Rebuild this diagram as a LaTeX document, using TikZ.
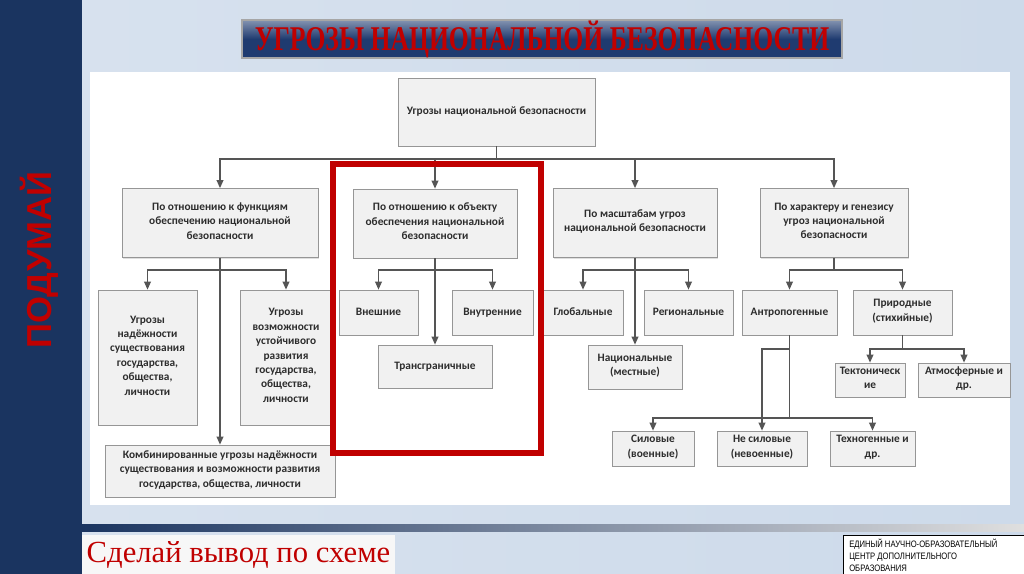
\documentclass[tikz,border=0pt]{standalone}
\usepackage{fontspec}
\setmainfont{Carlito}
\newfontfamily\titlefont[FakeStretch=0.74]{Liberation Serif}
\newfontfamily\slidefont{Liberation Serif}
\newfontfamily\sidefont{Liberation Sans}
\newfontfamily\logofont[FakeStretch=0.82]{Liberation Sans}
\usetikzlibrary{arrows.meta,positioning,calc,shadows}
\definecolor{navybar}{RGB}{26,52,96}
\definecolor{titlenavy}{RGB}{31,59,112}
\definecolor{slidered}{RGB}{192,0,0}
\definecolor{boxfill}{RGB}{241,241,241}
\definecolor{boxline}{RGB}{150,150,150}
\definecolor{linegray}{RGB}{85,85,85}
\definecolor{textgray}{RGB}{45,45,45}
\definecolor{bgblue}{RGB}{205,218,234}

\begin{document}
\begin{tikzpicture}[x=0.75pt,y=-0.75pt,
  thr/.style={draw=boxline, fill=boxfill, line width=0.5pt, align=center,
              inner sep=1pt, text=textgray,
              font=\fontsize{8.5}{10.8}\selectfont\bfseries,
              execute at begin node=\strut,
              drop shadow={shadow xshift=0.8pt, shadow yshift=-0.8pt, opacity=0.25}},
  conn/.style={draw=linegray, line width=1.1pt},
  connarr/.style={conn, -{Triangle[length=6pt,width=5pt]}}
]
\useasboundingbox (0,0) rectangle (1024,574);

% slide background
\shade[left color=bgblue!80, middle color=white, right color=bgblue] (82,0) rectangle (1024,574);
\fill[white] (90,72) rectangle (1010,505);
\shade[left color=navybar, right color=gray!25] (82,524) rectangle (1024,531);
\fill[navybar] (0,0) rectangle (82,574);

% title
\node[draw=gray!70, line width=0.8pt, top color=titlenavy!55, bottom color=titlenavy,
      middle color=titlenavy, minimum width=450pt, minimum height=28.5pt, inner sep=0pt,
      text=slidered, font=\titlefont\fontsize{26}{28}\selectfont\bfseries]
      (title) at (542,39) {УГРОЗЫ НАЦИОНАЛЬНОЙ БЕЗОПАСНОСТИ};

\node[rotate=90, text=slidered, font=\sidefont\fontsize{26}{28}\selectfont\bfseries]
      (think) at (39,260) {ПОДУМАЙ};

% root and criteria
\node[thr, minimum width=147.75pt, minimum height=51pt] (root) at (496.5,112) {Угрозы национальной безопасности};
\node[thr, minimum width=147pt, minimum height=51.75pt] (A) at (220,223) {По отношению к функциям\\обеспечению национальной\\безопасности};
\node[thr, minimum width=123pt, minimum height=51.75pt] (B) at (435,223.5) {По отношению к объекту\\обеспечения национальной\\безопасности};
\node[thr, minimum width=123pt, minimum height=51.75pt] (C) at (635,223) {По масштабам угроз\\национальной безопасности};
\node[thr, minimum width=111pt, minimum height=51.75pt] (D) at (834,223) {По характеру и генезису\\угроз национальной\\безопасности};

% functions
\node[thr, minimum width=74.25pt, minimum height=101.25pt] (A1) at (147.5,357.5) {Угрозы\\надёжности\\существования\\государства,\\общества,\\личности};
\node[thr, minimum width=69pt, minimum height=101.25pt] (A2) at (286,357.5) {Угрозы\\возможности\\устойчивого\\развития\\государства,\\общества,\\личности};
\node[thr, minimum width=172.5pt, minimum height=39pt] (A3) at (220,471) {Комбинированные угрозы надёжности\\существования и возможности развития\\государства, общества, личности};

% object
\node[thr, minimum width=59.25pt, minimum height=33.75pt] (B1) at (378.5,312.5) {Внешние};
\node[thr, minimum width=60.75pt, minimum height=33.75pt] (B2) at (492.5,312.5) {Внутренние};
\node[thr, minimum width=85.5pt, minimum height=32.25pt] (B3) at (435,366.5) {Трансграничные};

% scale
\node[thr, minimum width=60pt, minimum height=33.75pt] (C1) at (583,312.5) {Глобальные};
\node[thr, minimum width=66.75pt, minimum height=33.75pt] (C2) at (688.5,312.5) {Региональные};
\node[thr, minimum width=70.5pt, minimum height=33pt] (C3) at (635,367) {Национальные\\(местные)};

% character
\node[thr, minimum width=71.25pt, minimum height=33.75pt] (D1) at (789.5,312.5) {Антропогенные};
\node[thr, minimum width=74.25pt, minimum height=33.75pt] (D2) at (902.5,312.5) {Природные\\(стихийные)};
\node[thr, minimum width=52.5pt, minimum height=25.5pt] (D21) at (870,380) {Тектоническ\\ие};
\node[thr, minimum width=69pt, minimum height=25.5pt] (D22) at (964,380) {Атмосферные и\\др.};
\node[thr, minimum width=61.5pt, minimum height=26.25pt] (D11) at (653,448.5) {Силовые\\(военные)};
\node[thr, minimum width=67.5pt, minimum height=26.25pt] (D12) at (762,448.5) {Не силовые\\(невоенные)};
\node[thr, minimum width=63.75pt, minimum height=26.25pt] (D13) at (872.5,448.5) {Техногенные и\\др.};

% connectors
\coordinate (rj) at (root.south |- 0,159);
\draw[conn] (root.south) -- (rj);
\foreach \k in {A,B,C,D}
  \draw[connarr] (rj) -| (\k.north);

\foreach \k/\l/\r/\m in {A/A1/A2/A3, B/B1/B2/B3, C/C1/C2/C3}{
  \coordinate (\k j) at (\k.south |- 0,270);
  \draw[connarr] (\k.south) -- (\m.north);
  \draw[connarr] (\k j) -| (\l.north);
  \draw[connarr] (\k j) -| (\r.north);
}

\coordinate (Dj) at (D.south |- 0,270);
\draw[conn] (D.south) -- (Dj);
\draw[connarr] (Dj) -| (D1.north);
\draw[connarr] (Dj) -| (D2.north);

\coordinate (pj) at (D2.south |- 0,349);
\draw[conn] (D2.south) -- (pj);
\draw[connarr] (pj) -| (D21.north);
\draw[connarr] (pj) -| (D22.north);

\coordinate (tj) at (D1.south |- 0,418);
\coordinate (lj) at (D1.south |- 0,349);
\draw[conn] (D1.south) -- (tj);
\draw[connarr] (tj) -| (D11.north);
\draw[connarr] (tj) -| (D13.north);
\draw[connarr] (lj) -| (D12.north);

% highlight
\draw[slidered, line width=4.5pt] (333,164) rectangle (541,453);

% footer
\node[fill=gray!6, minimum width=234.75pt, minimum height=29.25pt, inner sep=0pt,
      text=slidered, font=\slidefont\fontsize{23}{25}\selectfont]
      (concl) at (238.5,554.5) {Сделай вывод по схеме};
\node[draw=black, fill=white, line width=0.6pt, anchor=north west, minimum width=136pt,
      minimum height=29.25pt, inner sep=0pt] (logo) at (843,535) {};
\node[anchor=north west, align=left, inner sep=0pt, text=black,
      font=\logofont\fontsize{7}{9}\selectfont] (logotext) at (849,539)
      {ЕДИНЫЙ НАУЧНО-ОБРАЗОВАТЕЛЬНЫЙ\\ЦЕНТР ДОПОЛНИТЕЛЬНОГО\\ОБРАЗОВАНИЯ};
\end{tikzpicture}
\end{document}
